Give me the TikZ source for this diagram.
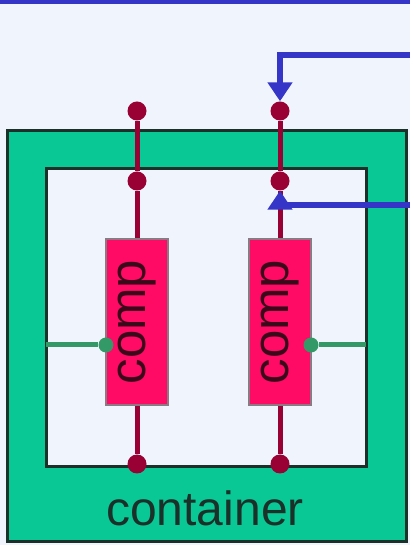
\documentclass[tikz,border=0pt]{standalone}
\usepackage{fontspec}
\setmainfont{Liberation Sans}
\usetikzlibrary{arrows.meta,positioning}
\definecolor{bgblue}{HTML}{F0F4FC}
\definecolor{contgreen}{HTML}{0AC896}
\definecolor{compred}{HTML}{FF0A64}
\definecolor{pinred}{HTML}{990033}
\definecolor{portgreen}{HTML}{339966}
\definecolor{flowblue}{HTML}{3535C8}
\definecolor{edgedark}{HTML}{1A3028}
\definecolor{comptext}{HTML}{3A0A1A}
\definecolor{compedge}{HTML}{8A7A84}

\begin{document}
\begin{tikzpicture}[x=1pt, y=1pt,
  big/.style={font=\fontsize{48}{56}\selectfont},
  cont/.style={draw=edgedark, line width=3pt, fill=contgreen,
               minimum width=399pt, minimum height=411pt},
  hole/.style={draw=edgedark, line width=3pt, fill=bgblue,
               minimum width=320pt, minimum height=298pt},
  comp/.style={font=\fontsize{51}{60}\selectfont, draw=compedge,
               line width=2.5pt, fill=compred, text=comptext, inner sep=0pt,
               minimum width=62pt, minimum height=166pt},
  pin/.style={circle, fill=pinred, inner sep=0pt, minimum size=19pt},
  sideport/.style={circle, fill=portgreen, inner sep=0pt, minimum size=15pt},
  pinline/.style={draw=pinred, line width=5pt},
  portline/.style={draw=portgreen, line width=5pt},
  flow/.style={draw=flowblue, line width=6pt,
               -{Triangle[width=24pt,length=19pt]}},
  >={Stealth[]}]
\fill[bgblue] (0,0) rectangle (410,545);
\useasboundingbox (0,0) rectangle (410,545);
\node[cont] (container) at (206.5,208.5) {};
\node[hole] (inner) at (206,227) {};
\node[big, text=edgedark] (contlabel) at (205,37) {container};
\node[comp] (compL) at (137,223) {\rotatebox{90}{comp}};
\node[comp] (compR) at (280,223) {\rotatebox{90}{comp}};
\node[pin] (ltop) at (137,434) {};
\node[pin] (lin) at (137,364) {};
\node[pin] (lbot) at (137,81) {};
\node[pin] (rtop) at (280,434) {};
\node[pin] (rin) at (280,364) {};
\node[pin] (rbot) at (280,81) {};
\node[sideport] (gl) at (106,200) {};
\node[sideport] (gr) at (311,200) {};
\coordinate (glEnd) at (46,200);
\coordinate (grEnd) at (366,200);
\coordinate (busL) at (0,543);
\coordinate (busR) at (410,543);
\coordinate (inTop) at (410,490);
\coordinate (inLow) at (410,340);
\draw[pinline] (ltop) -- (lin) -- (compL);
\draw[pinline] (compL) -- (lbot);
\draw[pinline] (rtop) -- (rin) -- (compR);
\draw[pinline] (compR) -- (rbot);
\draw[portline] (glEnd) -- (gl);
\draw[portline] (grEnd) -- (gr);
\draw[flowblue, line width=4pt] (busL) -- (busR);
\draw[flow] (inTop) -| (rtop);
\draw[flow] (inLow) -| (rin);
\end{tikzpicture}
\end{document}
